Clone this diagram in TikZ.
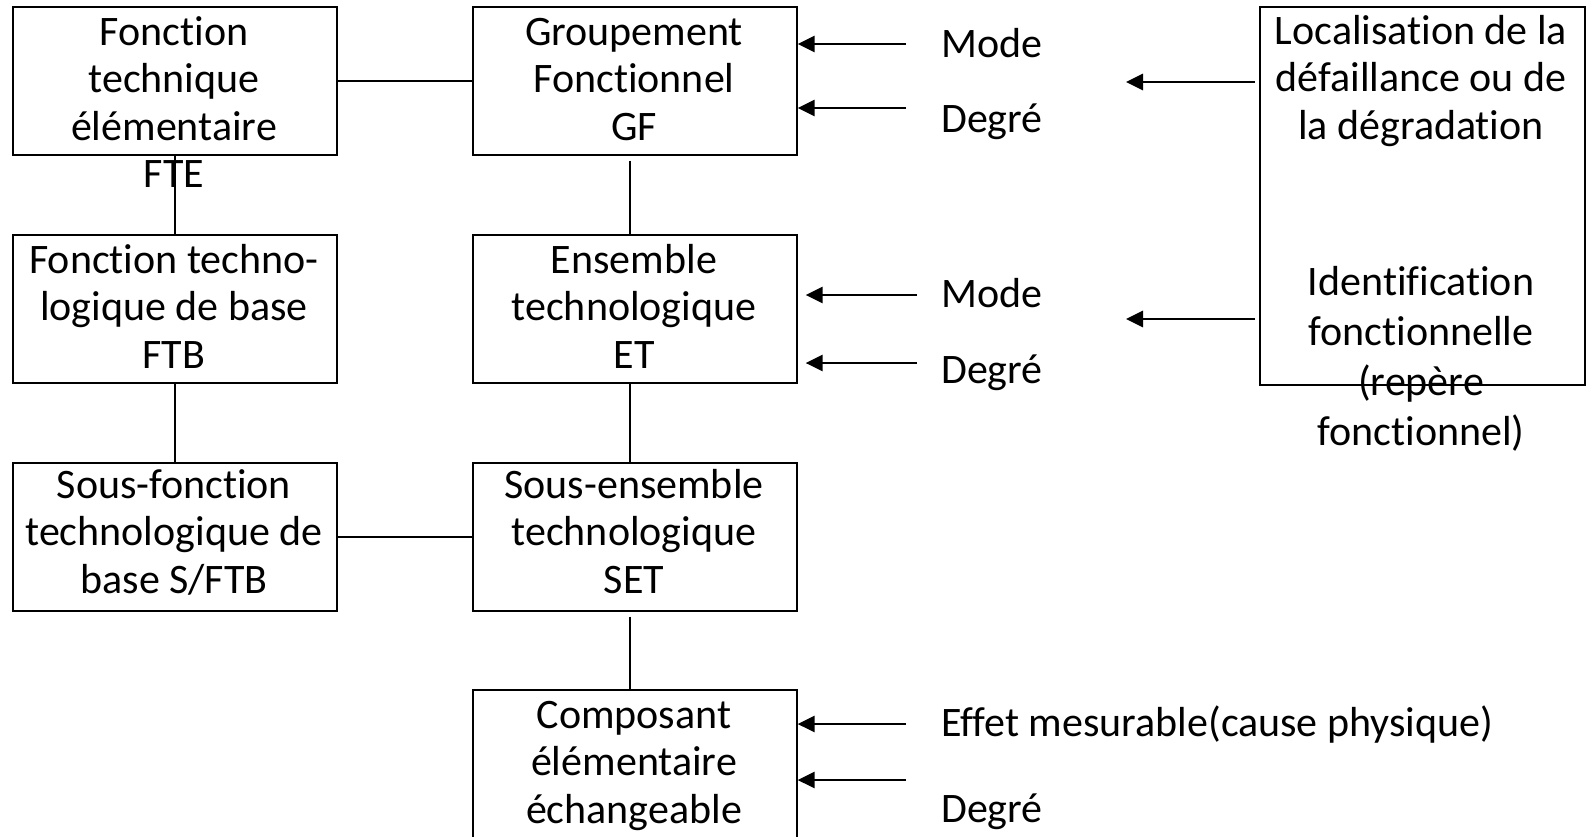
\documentclass[tikz,border=0pt]{standalone}
\usepackage{fontspec}
\setmainfont{Carlito}[RawFeature={-liga;-clig;-dlig;-calt;-hlig}]
\usetikzlibrary{arrows.meta}
\newcommand\firststrut{\rule{0pt}{36pt}}
\begin{document}
\begin{tikzpicture}[x=1pt,y=-1pt,
  box/.style={draw, line width=1.6pt, inner sep=0pt, minimum width=324pt, minimum height=148pt, anchor=north west},
  txt/.style={inner sep=0pt, align=center, anchor=north, font=\fontsize{42pt}{47.5pt}\selectfont},
  lbl/.style={inner sep=0pt, anchor=base west, font=\fontsize{42pt}{47.5pt}\selectfont},
  conn/.style={line width=1.6pt},
  arr/.style={line width=2.8pt, -{Triangle[length=17pt,width=16pt]}}]
\clip (0,0) rectangle (1586,836);
% boxes
\node[box] (fte) at (12,6) {};
\node[box] (gf) at (472,6) {};
\node[box] (ftb) at (12,234) {};
\node[box] (et) at (472,234) {};
\node[box] (sftb) at (12,462) {};
\node[box] (set) at (472,462) {};
\node[box, minimum height=180pt] (comp) at (472,689) {};
\node[box, minimum width=325pt, minimum height=378pt] (loc) at (1259,6) {};
% box texts
\node[txt] (fte-t) at (174,9) {\firststrut Fonction\\technique\\élémentaire\\FTE};
\node[txt] (gf-t) at (634,9) {\firststrut Groupement\\Fonctionnel\\GF};
\node[txt] (ftb-t) at (174,237) {\firststrut Fonction techno-\\logique de base\\FTB};
\node[txt] (et-t) at (634,237) {\firststrut Ensemble\\technologique\\ET};
\node[txt] (sftb-t) at (174,462) {\firststrut Sous-fonction\\technologique de\\base S/FTB};
\node[txt] (set-t) at (634,462) {\firststrut Sous-ensemble\\technologique\\SET};
\node[txt] (comp-t) at (634,692) {\firststrut Composant\\élémentaire\\échangeable};
\node[txt] (loc-t1) at (1421,8) {\firststrut Localisation de la\\défaillance ou de\\la dégradation};
\node[txt, font=\fontsize{42pt}{50pt}\selectfont] (loc-t2) at (1421,259) {\firststrut Identification\\fonctionnelle\\(repère\\fonctionnel)};
% labels
\node[lbl] (m1) at (941,57) {Mode};
\node[lbl] (d1) at (941,132) {Degré};
\node[lbl] (m2) at (941,307) {Mode};
\node[lbl] (d2) at (941,383) {Degré};
\node[lbl] (e3) at (941,736) {Effet mesurable(cause physique)};
\node[lbl] (d3) at (941,822) {Degré};
% connectors
\draw[conn] (fte) -- (gf);
\draw[conn] (sftb) -- (set);
\draw[conn] (fte) -- (ftb);
\draw[conn] (ftb) -- (sftb);
\draw[conn] ([xshift=-5pt,yshift=-5pt]gf.south) -- ([xshift=-5pt]et.north);
\draw[conn] ([xshift=-5pt]et.south) -- ([xshift=-5pt]set.north);
\draw[conn] ([xshift=-5pt,yshift=-5pt]set.south) -- ([xshift=-5pt]comp.north);
% arrows
\coordinate (a1) at (906,44);
\coordinate (a2) at (906,108);
\coordinate (a3) at (917,295);
\coordinate (a4) at (917,363);
\coordinate (a5) at (906,724);
\coordinate (a6) at (906,780);
\coordinate (b1) at (1126,82);
\coordinate (b2) at (1126,319);
\draw[arr] (a1) -- (a1 -| gf.east);
\draw[arr] (a2) -- (a2 -| gf.east);
\draw[arr] (a3) -- ([xshift=8pt]a3 -| et.east);
\draw[arr] (a4) -- ([xshift=8pt]a4 -| et.east);
\draw[arr] (a5) -- (a5 -| comp.east);
\draw[arr] (a6) -- (a6 -| comp.east);
\draw[arr] ([xshift=-4pt]b1 -| loc.west) -- (b1);
\draw[arr] ([xshift=-4pt]b2 -| loc.west) -- (b2);
\end{tikzpicture}
\end{document}
